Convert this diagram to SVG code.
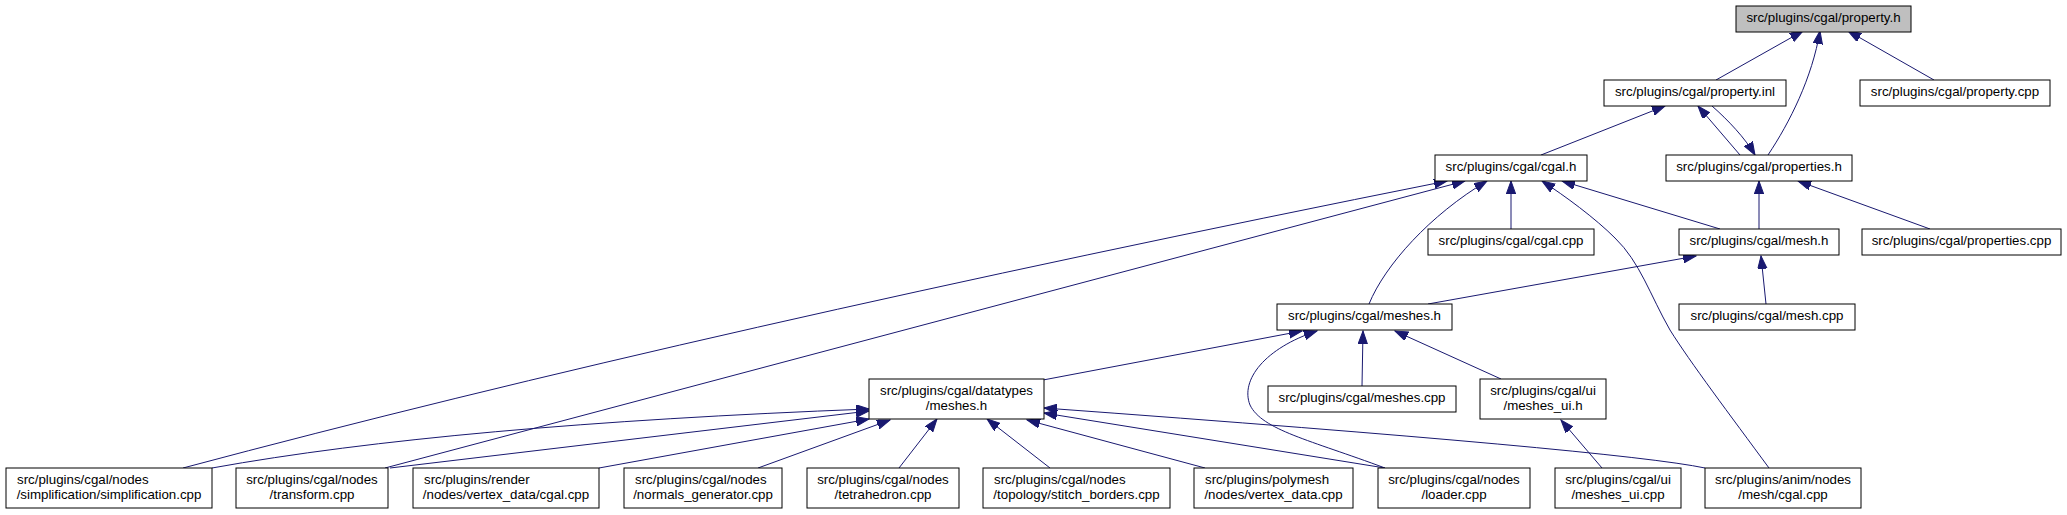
<svg xmlns="http://www.w3.org/2000/svg" width="2067" height="515" viewBox="0 0 2067 515">
<style>
.n rect{fill:#fff;stroke:#000;stroke-width:1}
.n text{font-family:"Liberation Sans",Arial,sans-serif;font-size:13.3px;fill:#000;text-anchor:middle}
.n text.l{text-anchor:start}
#property_h rect{fill:#bfbfbf}
#edges path{fill:none;stroke:#191970;stroke-width:1;marker-end:url(#arr)}
</style>
<defs>
<marker id="arr" markerUnits="userSpaceOnUse" markerWidth="14" markerHeight="10" refX="13" refY="4.7" orient="auto">
<path d="M0,0 L13,4.7 L0,9.4 z" fill="#191970" stroke="#191970" stroke-width="1"/>
</marker>
</defs>
<rect width="2067" height="515" fill="#fff"/>
<g id="edges">
<path d="M1716,80 L1803,31"/>
<path d="M1768,155 C1790,122 1812,78 1820,31"/>
<path d="M1934,80 L1848,31"/>
<path d="M1740,155 L1698,106"/>
<path d="M1712,106 C1728,120 1745,138 1755,155"/>
<path d="M1541,155 L1665,106"/>
<path d="M1759,229 L1759,181"/>
<path d="M1930,229 L1798,181"/>
<path d="M1511,229 L1511,181"/>
<path d="M1720,229 L1562,181"/>
<path d="M1428,304 L1696,256"/>
<path d="M1766,304 L1761,256"/>
<path d="M1769,468 C1730,415 1690,362 1670,330 C1650,295 1640,262 1615,238 C1595,218 1565,196 1542,181"/>
<path d="M1369,304 C1385,265 1430,215 1487,181"/>
<path d="M183,468 Q700,330 1447,181"/>
<path d="M385,468 L1465,181"/>
<path d="M1385,468 C1310,440 1262,430 1250,405 C1240,380 1265,348 1317,331"/>
<path d="M1362,386 L1363,331"/>
<path d="M1501,379 L1395,331"/>
<path d="M1043,380 L1302,331"/>
<path d="M1602,468 L1561,420"/>
<path d="M212,468 Q450,425 869,409"/>
<path d="M390,468 L869,411"/>
<path d="M599,468 L869,419"/>
<path d="M758,468 L890,420"/>
<path d="M899,468 L937,419"/>
<path d="M1050,468 L987,419"/>
<path d="M1205,468 L1027,420"/>
<path d="M1385,468 L1044,413"/>
<path d="M1705,468 Q1620,450 1044,408"/>
</g>
<g id="property_h" class="n"><rect x="1736" y="6" width="175" height="26"/><text x="1823.5" y="22.3">src/plugins/cgal/property.h</text></g>
<g id="property_inl" class="n"><rect x="1604" y="80" width="182" height="26"/><text x="1695" y="96.3">src/plugins/cgal/property.inl</text></g>
<g id="property_cpp" class="n"><rect x="1860" y="80" width="190" height="26"/><text x="1955" y="96.3">src/plugins/cgal/property.cpp</text></g>
<g id="cgal_h" class="n"><rect x="1435" y="155" width="152" height="26"/><text x="1511" y="171.3">src/plugins/cgal/cgal.h</text></g>
<g id="properties_h" class="n"><rect x="1666" y="155" width="186" height="26"/><text x="1759" y="171.3">src/plugins/cgal/properties.h</text></g>
<g id="cgal_cpp" class="n"><rect x="1428" y="229" width="166" height="26"/><text x="1511" y="245.3">src/plugins/cgal/cgal.cpp</text></g>
<g id="mesh_h" class="n"><rect x="1679" y="229" width="160" height="26"/><text x="1759" y="245.3">src/plugins/cgal/mesh.h</text></g>
<g id="properties_cpp" class="n"><rect x="1862" y="229" width="199" height="26"/><text x="1961.5" y="245.3">src/plugins/cgal/properties.cpp</text></g>
<g id="meshes_h" class="n"><rect x="1277" y="304" width="175" height="26"/><text x="1364.5" y="320.3">src/plugins/cgal/meshes.h</text></g>
<g id="mesh_cpp" class="n"><rect x="1679" y="304" width="176" height="26"/><text x="1767" y="320.3">src/plugins/cgal/mesh.cpp</text></g>
<g id="datatypes_meshes_h" class="n"><rect x="869" y="379" width="175" height="40"/><text x="956.5" y="395">src/plugins/cgal/datatypes</text><text x="956.5" y="410">/meshes.h</text></g>
<g id="meshes_cpp" class="n"><rect x="1268" y="386" width="188" height="26"/><text x="1362" y="402.3">src/plugins/cgal/meshes.cpp</text></g>
<g id="meshes_ui_h" class="n"><rect x="1480" y="379" width="126" height="40"/><text x="1543" y="395">src/plugins/cgal/ui</text><text x="1543" y="410">/meshes_ui.h</text></g>
<g id="simplification_cpp" class="n"><rect x="6" y="468" width="206" height="40"/><text class="l" x="17" y="484">src/plugins/cgal/nodes</text><text x="109" y="499">/simplification/simplification.cpp</text></g>
<g id="transform_cpp" class="n"><rect x="236" y="468" width="152" height="40"/><text x="312" y="484">src/plugins/cgal/nodes</text><text x="312" y="499">/transform.cpp</text></g>
<g id="render_cgal_cpp" class="n"><rect x="413" y="468" width="186" height="40"/><text class="l" x="424" y="484">src/plugins/render</text><text x="506" y="499">/nodes/vertex_data/cgal.cpp</text></g>
<g id="normals_generator_cpp" class="n"><rect x="624" y="468" width="158" height="40"/><text class="l" x="635" y="484">src/plugins/cgal/nodes</text><text x="703" y="499">/normals_generator.cpp</text></g>
<g id="tetrahedron_cpp" class="n"><rect x="807" y="468" width="152" height="40"/><text x="883" y="484">src/plugins/cgal/nodes</text><text x="883" y="499">/tetrahedron.cpp</text></g>
<g id="stitch_borders_cpp" class="n"><rect x="983" y="468" width="187" height="40"/><text class="l" x="994" y="484">src/plugins/cgal/nodes</text><text x="1076.5" y="499">/topology/stitch_borders.cpp</text></g>
<g id="polymesh_vertex_data_cpp" class="n"><rect x="1194" y="468" width="159" height="40"/><text class="l" x="1205" y="484">src/plugins/polymesh</text><text x="1273.5" y="499">/nodes/vertex_data.cpp</text></g>
<g id="loader_cpp" class="n"><rect x="1378" y="468" width="152" height="40"/><text x="1454" y="484">src/plugins/cgal/nodes</text><text x="1454" y="499">/loader.cpp</text></g>
<g id="meshes_ui_cpp" class="n"><rect x="1555" y="468" width="126" height="40"/><text x="1618" y="484">src/plugins/cgal/ui</text><text x="1618" y="499">/meshes_ui.cpp</text></g>
<g id="anim_mesh_cgal_cpp" class="n"><rect x="1705" y="468" width="156" height="40"/><text x="1783" y="484">src/plugins/anim/nodes</text><text x="1783" y="499">/mesh/cgal.cpp</text></g>
</svg>
